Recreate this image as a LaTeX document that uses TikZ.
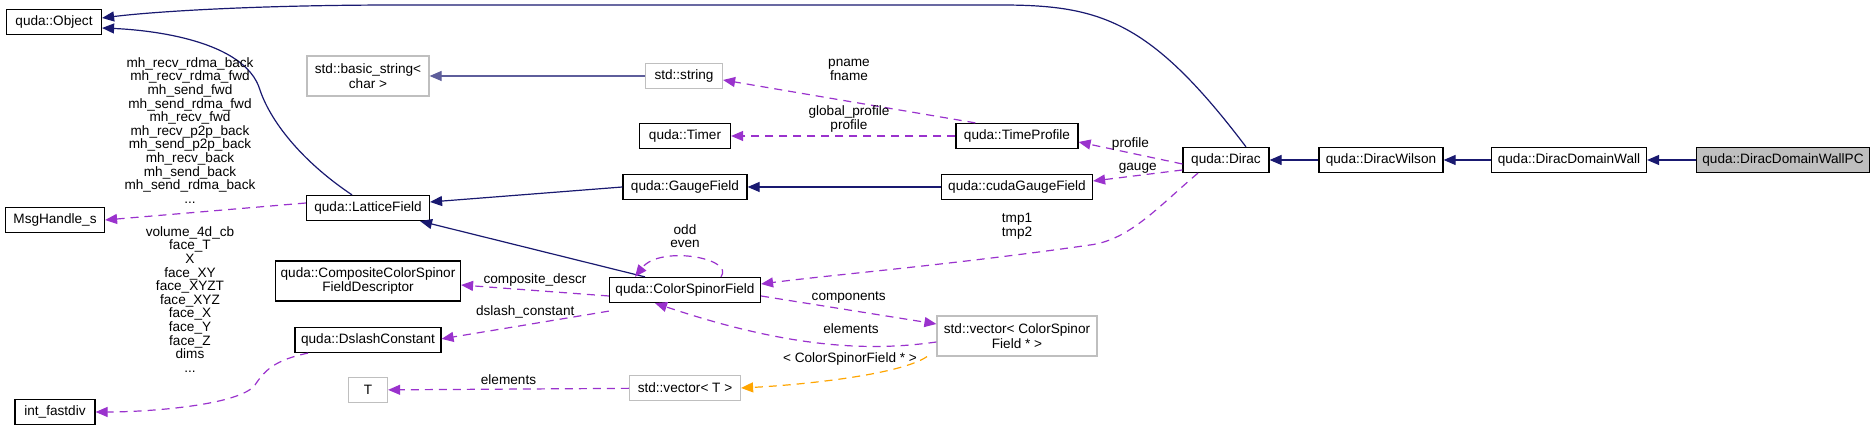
\documentclass[tikz,border=0pt]{standalone}
\usepackage{fontspec}
\setmainfont{Liberation Sans}
\usetikzlibrary{arrows.meta}
\definecolor{navy}{HTML}{191970}
\definecolor{purp}{HTML}{9A32CD}
\definecolor{orng}{HTML}{FFA500}
\definecolor{gb}{HTML}{BFBFBF}
\begin{document}
\begin{tikzpicture}[x=0.5pt,y=-0.5pt,
  every node/.style={font=\fontsize{6.8}{7.4}\selectfont},
  box/.style={draw=black,line width=0.6pt,minimum height=12.5pt,inner sep=1pt,align=center},
  gbox/.style={box,draw=gb},
  box2/.style={box,minimum height=20pt},
  gbox2/.style={gbox,minimum height=20pt},
  inh/.style={draw=navy,line width=0.6pt,-{Triangle[length=6pt,width=5pt]}},
  use/.style={draw=purp,line width=0.6pt,dash pattern=on 4pt off 3pt,-{Triangle[length=6pt,width=5pt]}},
  tpl/.style={use,draw=orng},
  lbl/.style={align=center,inner sep=0pt,font=\fontsize{6.8}{6.8}\selectfont}]
\useasboundingbox (0,0) rectangle (1875,431);
% nodes
\node[box,minimum width=47.5pt] (obj) at (54,22) {quda::Object};
\node[box,minimum width=49.5pt] (msg) at (55,220) {MsgHandle\_s};
\node[box,minimum width=40pt] (ifd) at (55,412) {int\_fastdiv};
\node[gbox2,minimum width=61pt] (bs) at (368,76) {std::basic\_string\textless\\char \textgreater};
\node[box,minimum width=61.5pt] (lf) at (368,208) {quda::LatticeField};
\node[box2,minimum width=92.5pt] (ccs) at (368,281) {quda::CompositeColorSpinor\\FieldDescriptor};
\node[box,minimum width=73pt] (dc) at (368,340) {quda::DslashConstant};
\node[gbox,minimum width=19.5pt] (T) at (368,390) {T};
\node[gbox,minimum width=38.5pt] (ss) at (684,76) {std::string};
\node[box,minimum width=45.5pt] (tim) at (685,136) {quda::Timer};
\node[box,minimum width=62pt] (gf) at (685,187) {quda::GaugeField};
\node[box,minimum width=75.5pt] (csf) at (685,290) {quda::ColorSpinorField};
\node[gbox,minimum width=55.5pt] (vt) at (685,388) {std::vector\textless{} T \textgreater};
\node[box,minimum width=61pt] (tp) at (1017,136) {quda::TimeProfile};
\node[box,minimum width=75.5pt] (cgf) at (1017,187) {quda::cudaGaugeField};
\node[gbox2,minimum width=80pt] (vc) at (1017,336) {std::vector\textless{} ColorSpinor\\Field * \textgreater};
\node[box,minimum width=43pt] (dirac) at (1226,160) {quda::Dirac};
\node[box,minimum width=62pt] (dw) at (1381,160) {quda::DiracWilson};
\node[box,minimum width=77.5pt] (ddw) at (1569,160) {quda::DiracDomainWall};
\node[box,fill=gb,minimum width=86.5pt] (ddwpc) at (1783,160) {quda::DiracDomainWallPC};
% inheritance
\draw[inh] (ddwpc) -- (ddw);
\draw[inh] (ddw) -- (dw);
\draw[inh] (dw) -- (dirac);
\draw[inh] ([xshift=10pt]dirac.north) .. controls (1150,20) and (1100,5) .. (1000,5) -- (400,5) .. controls (250,5) and (150,12) .. ([yshift=2pt]obj.east);
\draw[inh] ([xshift=-8pt]lf.north) .. controls (300,160) and (270,120) .. (260,90) .. controls (245,40) and (150,30) .. ([yshift=-3pt]obj.east);
\draw[inh] (gf.west) -- ([yshift=3pt]lf.east);
\draw[inh] ([xshift=-20pt]csf.north) -- ([xshift=-5pt]lf.south east);
\draw[inh,draw=navy!70] (ss) -- (bs);
\draw[inh] (cgf) -- (gf);
% usage
\draw[use] ([yshift=2.5pt]lf.west) -- (msg.east);
\node[lbl,anchor=north] (lmh) at (190,57) {mh\_recv\_rdma\_back\\mh\_recv\_rdma\_fwd\\mh\_send\_fwd\\mh\_send\_rdma\_fwd\\mh\_recv\_fwd\\mh\_recv\_p2p\_back\\mh\_send\_p2p\_back\\mh\_recv\_back\\mh\_send\_back\\mh\_send\_rdma\_back\\...};
\draw[use] ([xshift=-30pt]dc.south) .. controls (275,360) and (265,370) .. (255,385) .. controls (240,405) and (150,412) .. (ifd.east);
\node[lbl,anchor=north] (lvol) at (190,226) {volume\_4d\_cb\\face\_T\\X\\face\_XY\\face\_XYZT\\face\_XYZ\\face\_X\\face\_Y\\face\_Z\\dims\\...};
\draw[use] ([yshift=-3pt]csf.west) -- node[lbl,above=2pt]{composite\_descr} ([yshift=-2pt]ccs.east);
\draw[use] ([yshift=-4pt]csf.south west) -- node[lbl,above=3pt]{dslash\_constant} ([yshift=-6pt]dc.north east);
\draw[use] ([xshift=18pt]csf.north) .. controls (735,258) and (660,245) .. ([xshift=-25pt]csf.north);
\node[lbl] (loe) at (685,236) {odd\\even};
\draw[use] ([xshift=10pt]tp.north west) -- ([yshift=-2pt]ss.east);
\node[lbl] (lpn) at (849,70) {pname\\fname};
\draw[use] (tp) -- (tim);
\node[lbl] (lgp) at (849,119) {global\_profile\\profile};
\draw[use] ([yshift=-2pt]dirac.west) -- node[lbl,above=1pt]{profile} ([yshift=-3pt]tp.east);
\draw[use] ([yshift=-5pt]dirac.west) -- node[lbl,above=1pt]{gauge} ([yshift=3pt]cgf.east);
\draw[use] ([xshift=-14pt]dirac.south) .. controls (1160,205) and (1130,240) .. (1090,245) .. controls (950,265) and (830,275) .. ([yshift=3pt]csf.east);
\node[lbl] (ltmp) at (1017,226) {tmp1\\tmp2};
\draw[use] ([yshift=-3pt]csf.east) -- node[lbl,above=3pt]{components} ([yshift=6pt]vc.west);
\draw[use] ([yshift=-3pt]vc.west) .. controls (880,350) and (800,352) .. ([xshift=-15pt]csf.south);
\node[lbl] (lel) at (851,329) {elements};
\draw[tpl] ([xshift=-45pt]vc.south) .. controls (900,375) and (800,385) .. (vt.east);
\node[lbl] (lcs) at (850,359) {\textless{} ColorSpinorField * \textgreater};
\draw[use] (vt) -- node[lbl,above=2pt]{elements} (T);
\end{tikzpicture}
\end{document}
